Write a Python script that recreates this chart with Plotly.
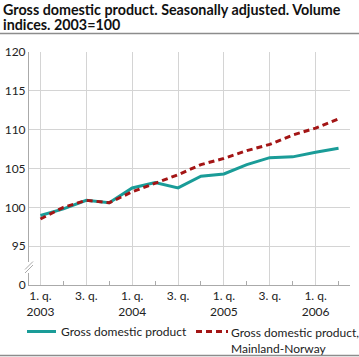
import plotly.graph_objects as go

quarters = ["2003Q1","2003Q2","2003Q3","2003Q4","2004Q1","2004Q2","2004Q3","2004Q4",
            "2005Q1","2005Q2","2005Q3","2005Q4","2006Q1","2006Q2"]
gdp = [98.95, 99.8, 100.9, 100.6, 102.5, 103.2, 102.5, 104.0, 104.3, 105.5, 106.4, 106.5, 107.1, 107.6]
gdp_mainland = [98.5, 100.0, 100.9, 100.6, 102.0, 103.1, 104.2, 105.5, 106.3, 107.3, 108.1, 109.3, 110.2, 111.4]

series_names = ["Gross domestic product", "Gross domestic product,<br>Mainland-Norway"]
title_lines = ["Gross domestic product. Seasonally adjusted. Volume", "indices. 2003=100"]
x_tick_labels = ["1. q.<br>2003", "3. q.", "1. q.<br>2004", "3. q.", "1. q.<br>2005", "3. q.", "1. q.<br>2006"]
y_tick_labels = ["0", "95", "100", "105", "110", "115", "120"]

# broken axis: values >= 95 are shown shifted so that 0 sits one step below 95
BREAK_OFFSET = 90
def shift(v):
    return [a - BREAK_OFFSET for a in v]

y_real = [0, 95, 100, 105, 110, 115, 120]
y_pos = [0] + [v - BREAK_OFFSET for v in y_real[1:]]

xi = list(range(len(quarters)))

TEAL = "#1a9c98"
RED = "#a31515"
FONT = "Lato"
W, H = 359, 357
ML, MR, MT, MB = 29, 9, 52, 72
PW, PH = W - ML - MR, H - MT - MB

def px(x):  # pixel x -> paper
    return (x - ML) / PW
def py(y):  # pixel y (from top) -> paper
    return (H - MB - y) / PH

fig = go.Figure()
fig.add_trace(go.Scatter(x=xi, y=shift(gdp), mode="lines", name=series_names[0],
                         line=dict(color=TEAL, width=3), showlegend=False))
fig.add_trace(go.Scatter(x=xi, y=shift(gdp_mainland), mode="lines", name=series_names[1],
                         line=dict(color=RED, width=3, dash="6px,4px"), showlegend=False))

fig.update_layout(
    width=W, height=H,
    margin=dict(l=ML, r=MR, t=MT, b=MB),
    paper_bgcolor="white", plot_bgcolor="white",
    font=dict(family=FONT, size=12, color="#222"),
    showlegend=False,
    xaxis=dict(range=[-0.5, 13.5], tickmode="array", tickvals=[0, 2, 4, 6, 8, 10, 12],
               ticktext=x_tick_labels, showgrid=True, gridcolor="#d4d4d4", gridwidth=1,
               showline=True, linecolor="#aaaaaa", linewidth=1, ticks="", zeroline=False,
               minor=dict(tickvals=[1, 3, 5, 7, 9, 11, 13], ticks="inside", ticklen=4,
                          tickcolor="#aaaaaa", showgrid=False),
               tickfont=dict(size=12, color="#222"), fixedrange=True, automargin=False),
    yaxis=dict(range=[0, 30], tickmode="array", tickvals=y_pos, ticktext=y_tick_labels,
               showgrid=True, gridcolor="#d4d4d4", gridwidth=1, showline=True,
               linecolor="#aaaaaa", linewidth=1, zeroline=False, ticks="",
               tickfont=dict(size=12, color="#222"), fixedrange=True, automargin=False),
)

# title (two lines placed separately for tight line spacing)
for txt, yc in zip(title_lines, (9.0, 24.0)):
    fig.add_annotation(text="<b>" + txt + "</b>", xref="paper", yref="paper",
                       x=px(1), y=py(yc), xanchor="left", yanchor="middle",
                       align="left", showarrow=False, font=dict(family=FONT, size=14.3, color="#111"))
# rule under title and at bottom
for yy in (33.5, 355.5):
    fig.add_shape(type="line", xref="paper", yref="paper", x0=px(0), x1=px(W),
                  y0=py(yy), y1=py(yy), line=dict(color="#8c8c8c", width=1.5))
# axis break marks
fig.add_shape(type="rect", xref="paper", yref="paper", x0=px(25), x1=px(33),
              y0=py(273), y1=py(262), fillcolor="white", line=dict(width=0))
for dy in (0, 3.5):
    fig.add_shape(type="line", xref="paper", yref="paper",
                  x0=px(25), x1=px(33), y0=py(273 - dy), y1=py(265 - dy),
                  line=dict(color="#aaaaaa", width=1))

# legend (drawn manually)
fig.add_shape(type="line", xref="paper", yref="paper", x0=px(27), x1=px(56),
              y0=py(331.5), y1=py(331.5), line=dict(color=TEAL, width=3))
fig.add_annotation(text=series_names[0], xref="paper", yref="paper", x=px(59), y=py(331),
                   xanchor="left", yanchor="middle", showarrow=False, align="left",
                   font=dict(family=FONT, size=12, color="#222"))
fig.add_shape(type="line", xref="paper", yref="paper", x0=px(196), x1=px(228),
              y0=py(331.5), y1=py(331.5), line=dict(color=RED, width=3, dash="6px,4px"))
fig.add_annotation(text=series_names[1], xref="paper", yref="paper", x=px(229), y=py(323),
                   xanchor="left", yanchor="top", showarrow=False, align="left",
                   font=dict(family=FONT, size=12, color="#222"))

fig.write_html("out.html", config={"displayModeBar": False},
               post_script="document.body.style.margin='0';document.body.style.overflow='hidden';")
